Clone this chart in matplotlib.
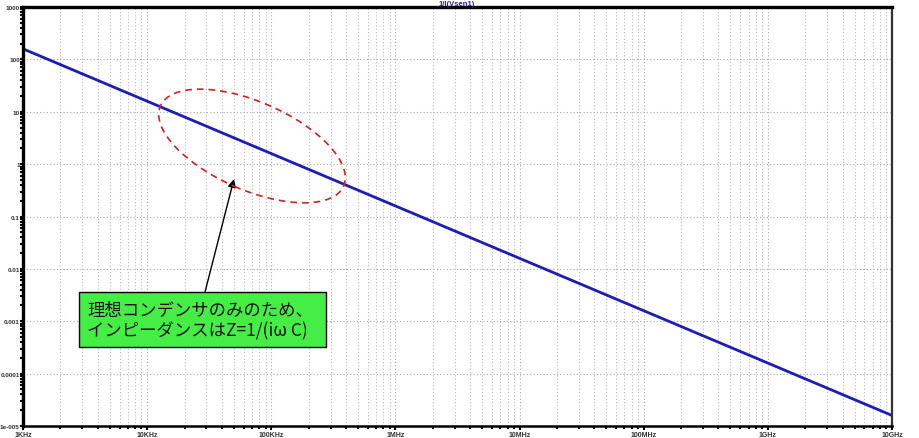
import numpy as np
import matplotlib
matplotlib.use('Agg')
from matplotlib import pyplot as plt
from matplotlib.patches import Ellipse, Rectangle
from matplotlib.transforms import IdentityTransform
from matplotlib.ticker import LogLocator, NullFormatter

plt.rcParams['font.family'] = ['Noto Sans CJK JP', 'DejaVu Sans']

# impedance of the ideal capacitor (one point per decade)
freq = [1e3, 1e4, 1e5, 1e6, 1e7, 1e8, 1e9, 1e10]
impedance = [159, 15.9, 1.59, 0.159, 0.0159, 1.59e-3, 1.59e-4, 1.59e-5]

xticks = [1e3, 1e4, 1e5, 1e6, 1e7, 1e8, 1e9, 1e10]
xticklabels = ['1KHz', '10KHz', '100KHz', '1MHz', '10MHz', '100MHz', '1GHz', '10GHz']
yticks = [1e-5, 1e-4, 1e-3, 1e-2, 1e-1, 1, 10, 100, 1000]
yticklabels = ['1e-005', '0.0001', '0.001', '0.01', '0.1', '1', '10', '100', '1000']

title = '1/I(Vsen1)'
note = '理想コンデンサのみのため、\nインピーダンスはZ=1/(iω C)'

W, H = 920, 439
fig = plt.figure(figsize=(W / 100, H / 100), dpi=100)
ax = fig.add_axes([23 / W, 1 - 427 / H, (892 - 23) / W, (427 - 8) / H])

ax.plot(freq, impedance, color='#1c1cb8', lw=2)
ax.set_xscale('log')
ax.set_yscale('log')
ax.set_xlim(1e3, 1e10)
ax.set_ylim(1e-5, 1e3)

ax.set_xticks(xticks)
ax.set_xticklabels(xticklabels)
ax.set_yticks(yticks)
ax.set_yticklabels(yticklabels)
ax.xaxis.set_minor_locator(LogLocator(base=10, subs=np.arange(2, 10)))
ax.yaxis.set_minor_locator(LogLocator(base=10, subs=np.arange(2, 10)))
ax.xaxis.set_minor_formatter(NullFormatter())
ax.yaxis.set_minor_formatter(NullFormatter())

ax.tick_params(axis='x', which='major', labelsize=5, length=3, width=1.5,
               colors='black', labelcolor='#333333', pad=0.5)
ax.tick_params(axis='y', which='major', labelsize=4.6, length=2, width=1.5,
               colors='black', labelcolor='#333333', pad=0.2)
ax.tick_params(axis='both', which='minor', length=2, width=1.5, colors='black')
for lab in ax.get_xticklabels() + ax.get_yticklabels():
    lab.set_fontweight('bold')
    lab.set_family('Liberation Sans')

ax.grid(True, which='major', axis='both', color='#a8a8a8', lw=0.8, ls=(0, (1, 2)))
ax.grid(True, which='minor', axis='x', color='#b8b8b8', lw=0.8, ls=(0, (1, 2)))

ax.spines['left'].set_linewidth(2.4)
ax.spines['top'].set_linewidth(2.4)
ax.spines['bottom'].set_linewidth(1.8)
ax.spines['right'].set_linewidth(1.6)
ax.spines['right'].set_color('#333333')

fig.text(457 / W, 1 - 4 / H, title, ha='center', va='center', fontsize=5.5,
         color='#2020c0', fontweight='bold', family='Liberation Sans')

# dashed ellipse around the line (drawn in pixel coordinates)
ell = Ellipse((252, H - 147), width=200, height=88, angle=-23.6,
              transform=IdentityTransform(), fill=False, edgecolor='#d02020',
              lw=1.2, ls=(0, (4, 3)))
fig.add_artist(ell)

# note box
box = Rectangle((79, H - 348), 247, 55, transform=IdentityTransform(),
                facecolor='#44ee44', edgecolor='black', lw=1)
fig.add_artist(box)
fig.text(87 / W, 1 - 321 / H, note, ha='left', va='center', fontsize=12.5,
         color='#111111', linespacing=1.15)

ax.annotate('', xy=(234, H - 180), xycoords='figure pixels',
            xytext=(205, H - 293), textcoords='figure pixels',
            arrowprops=dict(arrowstyle='-|>', color='black', lw=1,
                            mutation_scale=12, shrinkA=0, shrinkB=0))

fig.savefig('out.png', dpi=100)
